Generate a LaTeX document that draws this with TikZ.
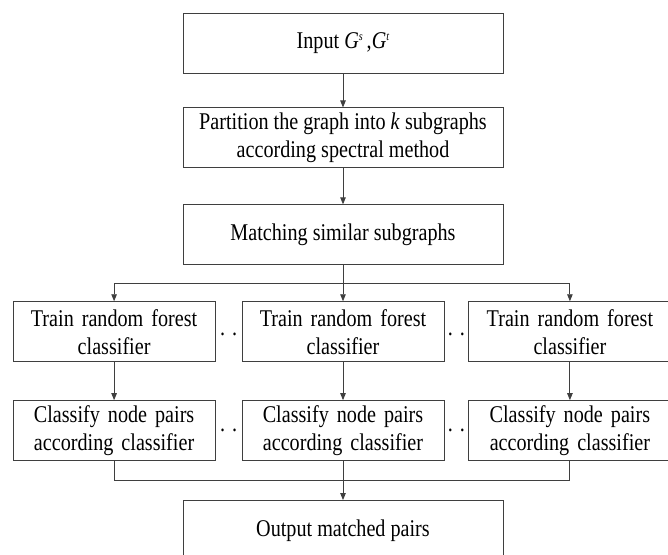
\documentclass[tikz,border=0pt]{standalone}
\usepackage{fontspec}
\setmainfont{Liberation Serif}[FakeStretch=0.84]
\definecolor{linegray}{HTML}{3F3F3F}
\usetikzlibrary{positioning, arrows.meta, calc}
\newcommand{\gsup}[1]{\textit{G}\raisebox{8pt}{\fontsize{12}{12}\selectfont\textit{#1}}}

\begin{document}
\begin{tikzpicture}[x=1pt, y=1pt, node distance=36pt and 26pt,
  box/.style={draw=linegray, line width=0.9pt, minimum width=320pt, minimum height=60pt,
              align=center, font=\fontsize{24}{28}\selectfont},
  col/.style={box, minimum width=202pt, text width=190pt},
  gap/.style={inner sep=0pt, font=\fontsize{24}{28}\selectfont},
  link/.style={line width=0.9pt, linegray},
  arr/.style={link, -{Triangle[length=7pt, width=5.5pt]}}]
  \useasboundingbox (0,0) rectangle (668,-554);
  \node[box] (input) at (343,-43) {Input \gsup{s}\,,\gsup{t}};
  \node[box, below=34pt of input] (part) {Partition the graph into \textit{k} subgraphs\\according spectral method};
  \node[box, below=of part] (match) {Matching similar subgraphs};
  % one column per subgraph pair
  \node[col, below=of match] (train2) {Train random forest\\classifier};
  \node[col, left=of train2] (train1) {Train random forest\\classifier};
  \node[col, right=24pt of train2] (train3) {Train random forest\\classifier};
  \node[col, below=38pt of train1] (class1) {Classify node pairs\\according classifier};
  \node[col, below=38pt of train2] (class2) {Classify node pairs\\according classifier};
  \node[col, below=38pt of train3] (class3) {Classify node pairs\\according classifier};
  \node[box, below=39pt of class2] (output) {Output matched pairs};
  % dots between the columns
  \node[gap] (gapA) at ($(train1.east)!.5!(train2.west)+(0,-3)$) {.\hspace{7pt}.};
  \node[gap] (gapB) at ($(train2.east)!.5!(train3.west)+(0,-3)$) {.\hspace{7pt}.};
  \node[gap] (gapC) at ($(class1.east)!.5!(class2.west)$) {.\hspace{7pt}.};
  \node[gap] (gapD) at ($(class2.east)!.5!(class3.west)$) {.\hspace{7pt}.};
  % connectors
  \coordinate (split) at ($(match.south)!.5!(train2.north)$);
  \coordinate (merge) at ($(class2.south)!.5!(output.north)$);
  \draw[arr] (input) -- (part);
  \draw[arr] (part) -- (match);
  \draw[link] (match) -- (split);
  \draw[arr] (split) -| (train1);
  \draw[arr] (split) -- (train2);
  \draw[arr] (split) -| (train3);
  \draw[arr] (train1) -- (class1);
  \draw[arr] (train2) -- (class2);
  \draw[arr] (train3) -- (class3);
  \draw[link] (class1) |- (merge) -| (class3);
  \draw[link] (class2) -- (merge);
  \draw[arr] (merge) -- (output);
\end{tikzpicture}
\end{document}
